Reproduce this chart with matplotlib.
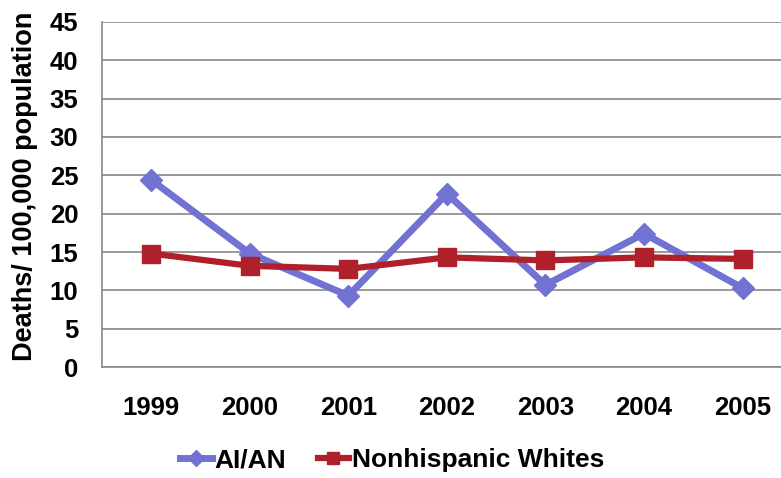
import matplotlib
matplotlib.use('Agg')
from matplotlib import pyplot as plt

years = ['1999', '2000', '2001', '2002', '2003', '2004', '2005']
aian = [24.4, 14.8, 9.3, 22.6, 10.7, 17.4, 10.3]
whites = [14.8, 13.2, 12.8, 14.3, 13.9, 14.3, 14.1]
yticks = [0, 5, 10, 15, 20, 25, 30, 35, 40, 45]

plt.rcParams['font.family'] = ['Liberation Sans', 'DejaVu Sans']
plt.rcParams['font.weight'] = 'bold'

fig = plt.figure(figsize=(7.81, 4.78), dpi=100)
ax = fig.add_axes([0.1306, 0.2322, 0.8694, 0.7218])

x = list(range(len(years)))
ax.plot(x, aian, color='#7272d2', lw=5, marker='D', ms=11, label='AI/AN', zorder=3)
ax.plot(x, whites, color='#b0202a', lw=4.5, marker='s', ms=13, label='Nonhispanic Whites', zorder=4)

ax.set_ylim(0, 45)
ax.set_xlim(-0.5, 6.39)
ax.set_yticks(yticks)
ax.set_xticks(x)
ax.set_xticklabels(years)
ax.tick_params(axis='both', length=0, labelsize=18.5)
ax.tick_params(axis='y', pad=17)
ax.tick_params(axis='x', pad=21)
for lab in ax.get_xticklabels() + ax.get_yticklabels():
    lab.set_fontweight('bold')

ax.yaxis.grid(True, color='#888888', lw=1.2)
ax.set_axisbelow(True)
for s in ['top', 'right']:
    ax.spines[s].set_visible(False)
for s in ['left', 'bottom']:
    ax.spines[s].set_color('#888888')
    ax.spines[s].set_linewidth(1.2)

fig.text(0.032, 0.611, 'Deaths/ 100,000 population', rotation=90, ha='center', va='center',
         fontsize=19.5, fontweight='bold')

leg = fig.legend(loc='center', bbox_to_anchor=(0.502, 0.037), ncol=2, frameon=False,
                 handlelength=1.2, handletextpad=0.1, columnspacing=1.2,
                 markerscale=0.7, prop={'weight': 'bold', 'size': 19})

fig.savefig('out.png', dpi=100)
